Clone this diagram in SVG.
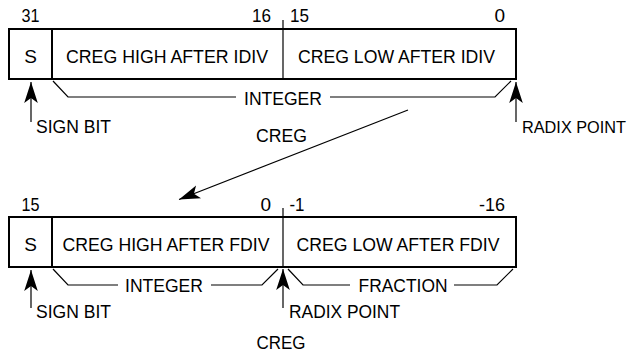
<svg xmlns="http://www.w3.org/2000/svg" width="632" height="353" viewBox="0 0 632 353">
<style>
text{font-family:"Liberation Sans",Arial,Helvetica,sans-serif;font-size:19px;fill:#000}
.box{fill:none;stroke:#000;stroke-width:2}
.thick{stroke:#000;stroke-width:2}
.thin{fill:none;stroke:#000;stroke-width:1.2}
.arr{fill:none;stroke:#000;stroke-width:1.2;marker-end:url(#ah)}
</style>
<defs>
<marker id="ah" markerUnits="userSpaceOnUse" viewBox="-22 -8 23 16" markerWidth="23" markerHeight="16" refX="0" refY="0" orient="auto" overflow="visible">
<path d="M0,0 L-21,-6.8 L-16,0 L-21,6.8 Z" fill="#000"/>
</marker>
</defs>
<rect width="632" height="353" fill="#fff"/>

<g id="reg-idiv">
<rect class="box" x="9" y="29" width="507" height="50"/>
<line class="thick" x1="52" y1="29" x2="52" y2="79"/>
<line class="thin" x1="283" y1="20" x2="283" y2="79"/>
<text x="30.5" y="22" text-anchor="middle" textLength="18" lengthAdjust="spacingAndGlyphs">31</text>
<text x="271" y="22" text-anchor="end" textLength="19" lengthAdjust="spacingAndGlyphs">16</text>
<text x="290" y="22" textLength="19" lengthAdjust="spacingAndGlyphs">15</text>
<text x="505" y="22" text-anchor="end">0</text>
<text x="30.5" y="63" text-anchor="middle">S</text>
<text x="66" y="63" textLength="202" lengthAdjust="spacingAndGlyphs">CREG HIGH AFTER IDIV</text>
<text x="298" y="63" textLength="197" lengthAdjust="spacingAndGlyphs">CREG LOW AFTER IDIV</text>
</g>

<g id="lbl-idiv">
<text x="244" y="105" textLength="78" lengthAdjust="spacingAndGlyphs">INTEGER</text>
<text x="36" y="133" textLength="75" lengthAdjust="spacingAndGlyphs">SIGN BIT</text>
<text x="256" y="141.5" textLength="51" lengthAdjust="spacingAndGlyphs">CREG</text>
<text x="522" y="133" style="font-size:17px" textLength="104" lengthAdjust="spacingAndGlyphs">RADIX POINT</text>
</g>

<g id="reg-fdiv">
<rect class="box" x="9" y="217" width="507" height="50"/>
<line class="thick" x1="52" y1="217" x2="52" y2="267"/>
<line class="thin" x1="283" y1="208" x2="283" y2="267"/>
<text x="30.5" y="210.5" text-anchor="middle" textLength="18" lengthAdjust="spacingAndGlyphs">15</text>
<text x="271" y="210.5" text-anchor="end">0</text>
<text x="289.5" y="210.5" textLength="15" lengthAdjust="spacingAndGlyphs">-1</text>
<text x="505" y="210.5" text-anchor="end" textLength="26" lengthAdjust="spacingAndGlyphs">-16</text>
<text x="30.5" y="251" text-anchor="middle">S</text>
<text x="62.5" y="251" textLength="207" lengthAdjust="spacingAndGlyphs">CREG HIGH AFTER FDIV</text>
<text x="296.5" y="251" textLength="203" lengthAdjust="spacingAndGlyphs">CREG LOW AFTER FDIV</text>
</g>

<g id="lbl-fdiv">
<text x="125" y="291.5" textLength="78" lengthAdjust="spacingAndGlyphs">INTEGER</text>
<text x="358.5" y="291.5" textLength="89" lengthAdjust="spacingAndGlyphs">FRACTION</text>
<text x="36" y="318" textLength="75" lengthAdjust="spacingAndGlyphs">SIGN BIT</text>
<text x="289" y="318" textLength="111" lengthAdjust="spacingAndGlyphs">RADIX POINT</text>
<text x="256.5" y="349" textLength="49" lengthAdjust="spacingAndGlyphs">CREG</text>
</g>

<g id="connectors">
<polyline class="thin" points="53,81 68,97 236,97"/>
<polyline class="thin" points="330,97 495,97 511,81"/>
<line class="arr" x1="31" y1="122" x2="31" y2="82"/>
<line class="arr" x1="516" y1="122" x2="516" y2="82"/>
<line class="arr" x1="408" y1="110" x2="179" y2="199.5"/>
<polyline class="thin" points="53,269 68,285 118,285"/>
<polyline class="thin" points="211,285 262,285 278,269"/>
<polyline class="thin" points="288,269 303,285 350,285"/>
<polyline class="thin" points="454,285 497,285 513,269"/>
<line class="arr" x1="31" y1="308" x2="31" y2="270"/>
<line class="arr" x1="283" y1="308" x2="283" y2="269"/>
</g>
</svg>
